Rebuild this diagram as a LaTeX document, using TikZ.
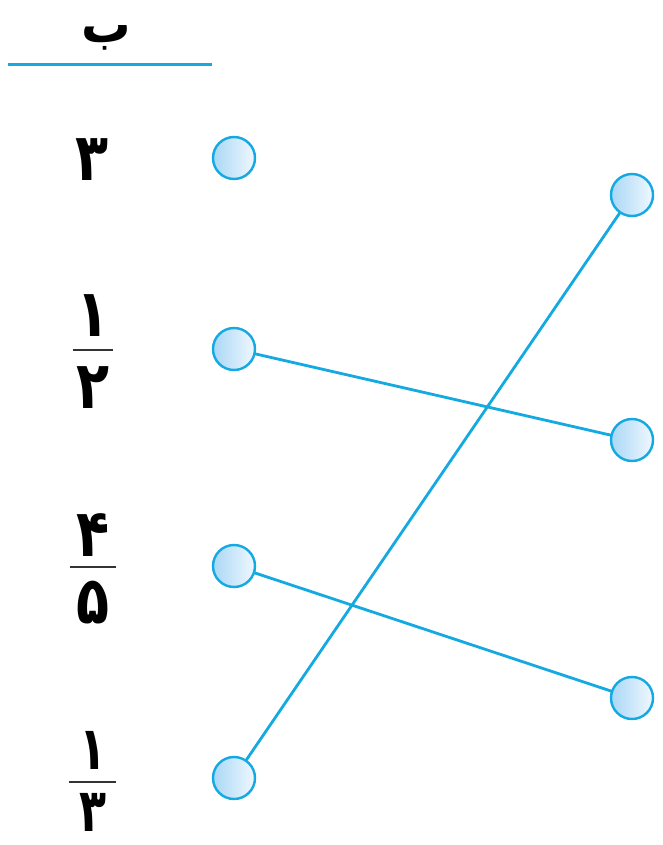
\documentclass[tikz,border=0pt]{standalone}
\usepackage{fontspec}
\newfontfamily\arabicfont[Script=Arabic]{DejaVu Sans}
\TeXXeTstate=1
\definecolor{lineblue}{RGB}{20,170,225}
\definecolor{dotleft}{RGB}{170,215,245}
\definecolor{dotright}{RGB}{240,248,255}
\tikzset{
  dot/.style={circle,draw=lineblue,line width=2.4pt,minimum size=42pt,inner sep=0pt,left color=dotleft,right color=dotright},
  link/.style={draw=lineblue,line width=2.8pt},
  digit/.style={font=\arabicfont\bfseries\fontsize{66}{66}\selectfont,inner sep=0pt,xscale=0.82,transform shape},
  smalldigit/.style={digit,font=\arabicfont\bfseries\fontsize{60}{60}\selectfont,xscale=0.9},
  fbar/.style={draw=black!80,line width=2pt}
}
\begin{document}
\begin{tikzpicture}[x=1pt,y=-1pt]
\useasboundingbox (0,0) rectangle (662,845);
\node[font=\arabicfont\bfseries\fontsize{52}{52}\selectfont,inner sep=0pt,xscale=0.95,transform shape] (head) at (106,38) {\beginR ب\endR};
\draw[lineblue,line width=3pt] (8,65) -- (212,65);
% left labels
\node[digit] (t3) at (92,160) {۳};
\node[digit] (n1) at (93,316) {۱};
\draw[fbar] (73,350) -- (113,350);
\node[digit] (d2) at (93,388) {۲};
\node[digit] (n4) at (93,535) {۴};
\node[digit] (d5) at (93,603) {۵};
\draw[fbar] (70,567) -- (116,567);
\node[smalldigit] (n1b) at (93,750) {۱};
\draw[fbar] (69,782) -- (116,782);
\node[smalldigit] (d3) at (93,812) {۳};
% links first
\coordinate (L2) at (234,349);
\coordinate (L3) at (234,566);
\coordinate (L4) at (234,778);
\coordinate (R1) at (632,195);
\coordinate (R2) at (632,440);
\coordinate (R3) at (632,698);
\draw[link] (L2) -- (R2);
\draw[link] (L3) -- (R3);
\draw[link] (L4) -- (R1);
% dots
\node[dot] (l1) at (234,158) {};
\node[dot] (l2) at (L2) {};
\node[dot] (l3) at (L3) {};
\node[dot] (l4) at (L4) {};
\node[dot] (r1) at (R1) {};
\node[dot] (r2) at (R2) {};
\node[dot] (r3) at (R3) {};
\end{tikzpicture}
\end{document}
